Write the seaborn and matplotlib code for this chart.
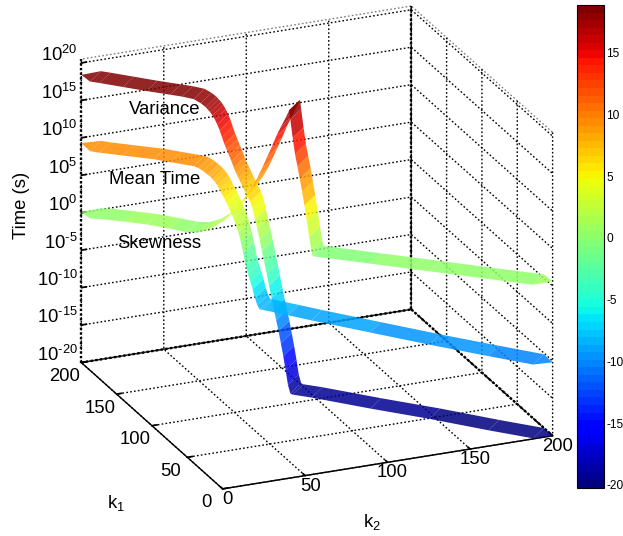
# -*- coding: utf-8 -*-
"""Three moment ribbons along the k1+k2=200 diagonal, jet coloured."""
import matplotlib
matplotlib.use("Agg")
import matplotlib.pyplot as plt
from matplotlib.cm import ScalarMappable
from matplotlib.colors import Normalize
from mpl_toolkits.mplot3d import proj3d
import numpy as np
import seaborn as sns

# k2 position along the diagonal, log10(value)
variance_k2 = [0, 6, 10, 20, 30, 40, 45, 50, 53, 55, 56, 57, 58, 59, 60, 61, 62, 63, 64, 65,
               66, 67, 68, 69, 70, 71, 72, 73, 74, 75, 76, 77, 78, 79, 80, 81, 82, 83, 84, 85,
               86, 87, 88, 89, 90, 91, 92, 100, 125, 150, 175, 194, 200]
variance_z = [18.4, 18.5, 18.5, 18.45, 18.4, 18.4, 18.4, 18.3, 17.9, 17.5, 17.2, 16.9, 16.5, 16.0,
              15.4, 14.7, 13.8, 12.95, 12.25, 11.5, 10.8, 10.0, 9.3, 8.7, 8.1, 7.5, 6.9, 6.3, 5.8,
              4.9, 3.55, 2.25, 0.9, -0.6, -2.1, -3.5, -5.05, -6.65, -8.1, -9.5, -10.9, -12.5,
              -14.15, -15.95, -17.9, -19.0, -19.1, -19.1, -19.35, -19.5, -19.8, -19.95, -20.0]

mean_k2 = [0, 6, 10, 20, 33, 40, 50, 52, 54, 56, 57, 58, 59, 60, 61, 62, 63, 64, 65, 66, 67, 68,
           69, 70, 71, 72, 73, 74, 75, 76, 77, 78, 79, 90, 100, 125, 150, 175, 194, 200]
mean_z = [9.3, 9.2, 9.2, 9.3, 9.45, 9.4, 9.35, 9.2, 8.9, 8.5, 8.3, 8.0, 7.7, 7.3, 6.8, 6.2, 5.7,
          5.1, 4.45, 3.85, 3.15, 2.3, 1.4, 0.2, -1.2, -2.8, -3.85, -4.85, -5.85, -7.0, -7.9, -8.4,
          -8.4, -8.6, -8.8, -9.2, -9.6, -9.9, -10.1, -10.2]

skew_k2 = [0, 6, 10, 20, 30, 40, 47, 52, 55, 57, 60, 63, 65, 67, 69, 71, 73, 75, 77, 79, 81, 83,
           85, 87, 89, 90, 90.5, 91, 92, 93, 94, 95, 96, 97, 98, 99, 100, 100.5, 101, 125, 150,
           175, 194, 200]
skew_z = [0.1, 0.2, 0.35, 0.5, 0.6, 0.5, 0.4, 0.6, 1.0, 1.3, 2.0, 2.75, 3.45, 4.15, 5.05, 5.9, 6.9,
          7.9, 9.1, 10.5, 12.0, 13.45, 15.05, 16.4, 17.7, 18.4, 18.8, 17.6, 15.2, 13.05, 11.5, 9.9,
          8.2, 6.4, 4.35, 2.3, 0.4, -0.2, -0.2, 0.0, 0.2, 0.4, 0.55, 0.6]

k_ticks = [0, 50, 100, 150, 200]
z_ticks = [-20, -15, -10, -5, 0, 5, 10, 15, 20]
cbar_ticks = [-20, -15, -10, -5, 0, 5, 10, 15]
color_min, color_max = -20.25, 18.87

sns.set_theme(style="white")
plt.rcParams.update({
    "font.family": ["Liberation Sans", "DejaVu Sans"],
    "mathtext.fontset": "custom",
    "mathtext.rm": "Liberation Sans",
    "mathtext.default": "regular",
    "axes.unicode_minus": False,
    "text.color": "black",
    "xtick.color": "black",
    "ytick.color": "black",
})

# seaborn's palette lookup refuses "jet", so it comes from matplotlib
jet = plt.get_cmap("jet", 64)
norm = Normalize(color_min, color_max)


def draw_ribbon(ax, k2_values, z_values, half_width=11.5):
    """Band around the diagonal, tapered to a point where it meets the box."""
    k2_values = np.asarray(k2_values, dtype=float)
    z_values = np.asarray(z_values, dtype=float)
    room = np.minimum(np.minimum(2 * k2_values, 2 * (200 - k2_values)), half_width)
    offset = np.column_stack([-room, room])
    k2 = k2_values[:, None] + offset / 2
    k1 = 200 - k2_values[:, None] + offset / 2
    z = np.column_stack([z_values] * 2)
    ax.plot_surface(k2, k1, z, rstride=1, cstride=1, cmap=jet, norm=norm, shade=False,
                    edgecolor="none", linewidth=0, antialiased=True, alpha=0.85)


def tick_text(ax, k2, k1, z, text, **kwargs):
    """Plain 2D text at the projected place of a 3D point."""
    x2, y2, _ = proj3d.proj_transform(k2, k1, z, ax.get_proj())
    ax.text2D(x2, y2, text, transform=ax.transData, fontsize=13.3, **kwargs)


fig = plt.figure(figsize=(6.23, 5.36), dpi=100)
ax = fig.add_axes([15 / 623, -13.4 / 536, 588 / 623, 588 / 536], projection="3d")
ax.computed_zorder = False
ax.set_proj_type("ortho")
ax.view_init(elev=22.3, azim=-113)
ax.set_box_aspect((357.5, 360.8, 327))

draw_ribbon(ax, variance_k2, variance_z)
draw_ribbon(ax, mean_k2, mean_z)
draw_ribbon(ax, skew_k2, skew_z)

# heavier dotted edges along the back of the box
box_style = dict(color="black", linewidth=1.7, linestyle=(0, (1, 1)), zorder=0.5)
ax.plot([0, 200], [200, 200], [-20, -20], **box_style)
ax.plot([200, 200], [200, 0], [-20, -20], **box_style)
ax.plot([200, 200], [200, 200], [-20, 20.5], **box_style)
ax.plot([0, 0], [200, 200], [-20, 20.5], **box_style)

ax.set_xlim(0, 200, view_margin=0)
ax.set_ylim(0, 200, view_margin=0)
ax.set_zlim(-20, 20.5, view_margin=0)
ax.set_xticks(k_ticks)
ax.set_yticks(k_ticks)
ax.set_zticks(z_ticks)
ax.set_xticklabels([])
ax.set_yticklabels([])
ax.set_zticklabels([])

# native 3D tick labels can't be pushed where the reference has them
for t in k_ticks:
    tick_text(ax, t, -7, -20.8, str(t), ha="center", va="center")
    tick_text(ax, -10, t, -21.5, str(t), ha="center", va="center")
for t in z_ticks:
    sign = r"\text{-}" if t < 0 else ""
    tick_text(ax, 0, 205, t + 0.6, f"$10^{{{sign}{abs(t)}}}$", ha="right", va="center")

for axis in (ax.xaxis, ax.yaxis, ax.zaxis):
    axis.pane.set_facecolor((1, 1, 1, 0))
    axis.pane.set_edgecolor("black")
    axis.pane.set_linestyle((0, (1.2, 1.6)))
    axis.pane.set_linewidth(1.0)
    axis.line.set_color("black")
    axis.line.set_linewidth(1.0)
    axis._axinfo["grid"].update(color="black", linewidth=1.0, linestyle=(0, (1.2, 1.6)))
    axis._axinfo["tick"].update(inward_factor=0.0, outward_factor=0.2)
ax.zaxis.line.set_linewidth(0)

fig.text(165 / 623, 1 - 109.5 / 536, "Variance", fontsize=13.3, ha="center", va="center")
fig.text(155 / 623, 1 - 179.5 / 536, "Mean Time", fontsize=13.3, ha="center", va="center")
fig.text(159 / 623, 1 - 243.5 / 536, "Skewness", fontsize=13.3, ha="center", va="center")
fig.text(21 / 623, 1 - 205 / 536, "Time (s)", fontsize=13.3, rotation=90, ha="center", va="center")
fig.text(116 / 623, 1 - 503 / 536, "$k_1$", fontsize=13.3, ha="center", va="center")
fig.text(372 / 623, 1 - 522 / 536, "$k_2$", fontsize=13.3, ha="center", va="center")

cax = fig.add_axes([577 / 623, 48 / 536, 27 / 623, 483 / 536])
cbar = fig.colorbar(ScalarMappable(norm=norm, cmap=jet), cax=cax, ticks=cbar_ticks)
cbar.outline.set_edgecolor("black")
cbar.outline.set_linewidth(0.8)
cax.tick_params(axis="y", direction="in", left=True, right=True, length=3, width=0.7,
                labelsize=8.6, pad=1.5)

fig.savefig("out.png", dpi=100)
